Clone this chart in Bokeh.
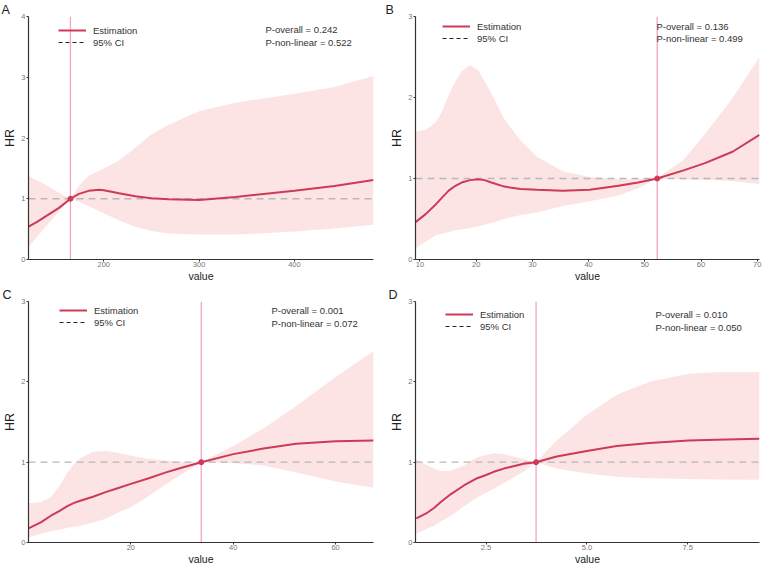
from bokeh.plotting import figure
from bokeh.layouts import gridplot
from bokeh.models import Span, Label, Legend, LegendItem, FixedTicker, Range1d, Title
from bokeh.embed import file_html
from bokeh.resources import INLINE

# ---------------- data ----------------
a_x = [121, 130, 139, 153, 165, 174, 184, 195, 200, 216, 233, 250, 268, 300, 338, 400, 442, 483]
a_hr = [0.54, 0.62, 0.71, 0.85, 1.00, 1.08, 1.13, 1.15, 1.14, 1.09, 1.04, 1.01, 0.99, 0.98, 1.03, 1.13, 1.21, 1.31]
a_hi = [1.38, 1.30, 1.23, 1.10, 1.00, 1.22, 1.38, 1.46, 1.50, 1.63, 1.84, 2.06, 2.22, 2.44, 2.58, 2.73, 2.84, 3.02]
a_lo = [0.21, 0.37, 0.54, 0.79, 1.00, 0.95, 0.88, 0.80, 0.76, 0.64, 0.54, 0.47, 0.43, 0.41, 0.41, 0.46, 0.51, 0.57]
a_ref = 165
a_p = ["P-overall = 0.242", "P-non-linear = 0.522"]

b_x = [9.2, 11.0, 12.8, 14.0, 15.1, 16.3, 17.4, 18.9, 20.3, 21.5, 22.7, 25.0, 27.9, 30.8, 35.4, 40.2, 45.3, 48.8, 52.2, 56.9, 60.7, 65.6, 70.4]
b_hr = [0.46, 0.56, 0.68, 0.77, 0.85, 0.91, 0.95, 0.98, 0.99, 0.98, 0.95, 0.90, 0.87, 0.86, 0.85, 0.86, 0.91, 0.95, 1.00, 1.10, 1.19, 1.33, 1.54]
b_hi = [1.58, 1.60, 1.69, 1.84, 2.03, 2.20, 2.32, 2.40, 2.34, 2.20, 2.05, 1.73, 1.47, 1.27, 1.09, 1.02, 0.99, 0.99, 1.00, 1.23, 1.55, 1.99, 2.50]
b_lo = [0.14, 0.22, 0.30, 0.32, 0.34, 0.36, 0.37, 0.39, 0.41, 0.43, 0.45, 0.50, 0.55, 0.58, 0.66, 0.72, 0.79, 0.88, 1.00, 0.99, 0.985, 0.97, 0.93]
b_ref = 52.2
b_p = ["P-overall = 0.136", "P-non-linear = 0.499"]

c_x = [0, 2.4, 4.3, 6.0, 7.5, 8.8, 10.1, 12.6, 15.2, 17.1, 20.0, 23.5, 26.7, 29.9, 33.75, 40, 45.9, 52.3, 60, 67.4]
c_hr = [0.175, 0.25, 0.33, 0.39, 0.45, 0.49, 0.52, 0.57, 0.63, 0.67, 0.73, 0.80, 0.87, 0.93, 1.00, 1.10, 1.17, 1.23, 1.26, 1.27]
c_hi = [0.49, 0.50, 0.56, 0.70, 0.86, 0.97, 1.05, 1.13, 1.14, 1.12, 1.08, 1.04, 1.02, 1.00, 1.00, 1.20, 1.42, 1.70, 2.06, 2.38]
c_lo = [0.065, 0.11, 0.14, 0.16, 0.18, 0.195, 0.21, 0.25, 0.30, 0.36, 0.44, 0.58, 0.72, 0.85, 1.00, 0.99, 0.96, 0.87, 0.76, 0.68]
c_ref = 33.75
c_p = ["P-overall = 0.001", "P-non-linear = 0.072"]

d_x = [0.77, 1.04, 1.21, 1.37, 1.62, 1.95, 2.28, 2.5, 2.69, 2.94, 3.10, 3.43, 3.74, 4.25, 5.0, 5.74, 6.56, 7.52, 8.21, 9.28]
d_hr = [0.30, 0.37, 0.43, 0.50, 0.60, 0.71, 0.80, 0.84, 0.88, 0.92, 0.94, 0.98, 1.00, 1.07, 1.14, 1.20, 1.24, 1.27, 1.28, 1.29]
d_hi = [1.04, 0.96, 0.92, 0.89, 0.89, 0.96, 1.06, 1.09, 1.11, 1.10, 1.08, 1.04, 1.00, 1.27, 1.59, 1.84, 2.00, 2.10, 2.12, 2.12]
d_lo = [0.11, 0.17, 0.21, 0.26, 0.33, 0.45, 0.56, 0.62, 0.67, 0.74, 0.79, 0.88, 1.00, 0.92, 0.86, 0.82, 0.80, 0.79, 0.785, 0.78]
d_ref = 3.74
d_p = ["P-overall = 0.010", "P-non-linear = 0.050"]

a_xticks = [200, 300, 400]
b_xticks = [10, 20, 30, 40, 50, 60, 70]
c_xticks = [20, 40, 60]
d_xticks = [2.5, 5.0, 7.5]
d_xlabels = {2.5: "2.5", 5.0: "5.0", 7.5: "7.5"}

RED = "#CC3A58"
BAND = "#FCE3E4"
VLINE = "#F4A6BF"
FONT = "Liberation Sans"


def panel(letter, xs, hr, lo, hi, ref, ptxt, xrange, ymax, xticks, xlabels,
          w, h, bl, br, bt, bb, leg_xy, ptxt_xy, letter_off):
    p = figure(width=w, height=h, output_backend="svg", toolbar_location=None,
               x_range=Range1d(*xrange), y_range=Range1d(0, ymax),
               min_border_left=bl, min_border_right=br, min_border_top=bt,
               min_border_bottom=bb, background_fill_color="white",
               border_fill_color="white", outline_line_color=None)
    p.title = Title(text=letter, align="left", offset=letter_off, standoff=0,
                    text_font=FONT, text_font_size="12.5px",
                    text_font_style="normal", text_color="#222222")
    p.grid.visible = False
    p.varea(x=xs, y1=lo, y2=hi, fill_color=BAND, fill_alpha=1.0, level="image")
    p.add_layout(Span(location=1, dimension="width", line_color="#B8B8B8",
                      line_dash="7 5", line_width=1.4, level="underlay"))
    p.add_layout(Span(location=ref, dimension="height", line_color=VLINE,
                      line_width=1.3, level="underlay"))
    est = p.line(xs, hr, line_color=RED, line_width=2)
    ci = p.line(x=[ref], y=[1], line_color="#222222", line_dash="4 3", line_width=1.2)
    p.scatter([ref], [1], size=5, color=RED)

    for ax in (p.xaxis[0], p.yaxis[0]):
        ax.axis_line_color = "#333333"
        ax.axis_line_width = 1.2
        ax.major_tick_line_color = "#333333"
        ax.major_tick_out = 2
        ax.major_tick_in = 0
        ax.minor_tick_line_color = None
        ax.major_label_text_font = FONT
        ax.major_label_text_font_size = "7.5px"
        ax.major_label_text_color = "#777777"
        ax.major_label_standoff = 1
        ax.axis_label_text_font = FONT
        ax.axis_label_text_font_style = "normal"
        ax.axis_label_text_color = "#222222"
        ax.axis_label_standoff = 1
    p.xaxis.major_label_standoff = 0
    p.xaxis.axis_label_standoff = 0
    p.xaxis.ticker = FixedTicker(ticks=xticks)
    if xlabels:
        p.xaxis.major_label_overrides = xlabels
    p.yaxis.ticker = FixedTicker(ticks=list(range(0, ymax + 1)))
    p.xaxis.axis_label = "value"
    p.xaxis.axis_label_text_font_size = "10.5px"
    p.yaxis.axis_label = "HR"
    p.yaxis.axis_label_text_font_size = "12.5px"

    legend = Legend(items=[LegendItem(label="Estimation", renderers=[est]),
                           LegendItem(label="95% CI", renderers=[ci])],
                    location=leg_xy, padding=0, margin=0, spacing=0,
                    glyph_width=28, glyph_height=12, label_height=12,
                    label_standoff=7, label_text_font=FONT,
                    label_text_font_size="9.5px", label_text_color="#333333",
                    border_line_color=None, background_fill_alpha=0)
    p.add_layout(legend)

    for i, t in enumerate(ptxt):
        p.add_layout(Label(x=ptxt_xy[0], y=ptxt_xy[1] - 12.7 * i, x_units="screen",
                           y_units="screen", text=t, text_font=FONT,
                           text_font_size="9.5px", text_color="#333333",
                           text_baseline="middle", text_align="left"))
    return p


pa = panel("A", a_x, a_hr, a_lo, a_hi, a_ref, a_p, (121, 483), 4, a_xticks, None,
           383, 285, 26, 10, 8, 26, (30, 211), (237, 229.7), -27)
pb = panel("B", b_x, b_hr, b_lo, b_hi, b_ref, b_p, (9.2, 70.4), 3, b_xticks, None,
           384, 285, 26, 6, 8, 25, (27, 215), (241, 233.3), -30)
pc = panel("C", c_x, c_hr, c_lo, c_hi, c_ref, c_p, (0, 67.4), 3, c_xticks, None,
           383, 285, 27, 5, 8, 24, (31, 213.7), (243, 231.7), -26)
pd = panel("D", d_x, d_hr, d_lo, d_hi, d_ref, d_p, (0.75, 9.28), 3, d_xticks, d_xlabels,
           384, 285, 32, 8, 8, 28, (30, 209.7), (240, 227.7), -27)

grid = gridplot([[pa, pb], [pc, pd]], toolbar_location=None)
open("out.html", "w").write(file_html(grid, INLINE))
